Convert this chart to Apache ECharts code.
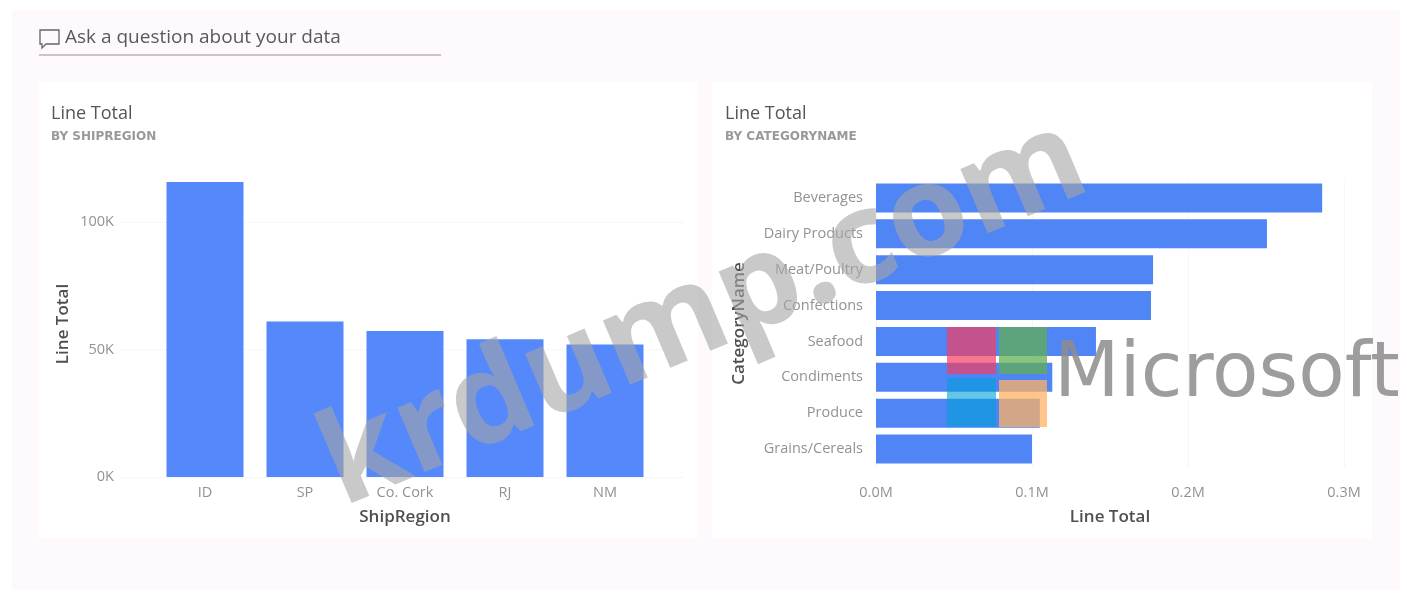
<!DOCTYPE html>
<html>
<head>
<meta charset="utf-8">
<script src="https://cdn.jsdelivr.net/npm/echarts@6/dist/echarts.min.js"></script>
<style>
html,body{margin:0;padding:0;background:#fff;overflow:hidden}
#c{width:1407px;height:597px;filter:blur(0.6px)}
</style>
</head>
<body>
<div id="c"></div>
<script>
const regions = ['ID', 'SP', 'Co. Cork', 'RJ', 'NM'];
const regionTotals = [115700, 61000, 57300, 54000, 52000];
const categories = ['Beverages', 'Dairy Products', 'Meat/Poultry', 'Confections', 'Seafood', 'Condiments', 'Produce', 'Grains/Cereals'];
const categoryTotals = [286000, 250600, 177600, 176300, 141000, 113000, 105000, 100000];
const FONT = '"Open Sans","Noto Sans",sans-serif';
const SUB = '"DejaVu Sans",sans-serif';
const tickColor = '#929292', nameColor = '#4f4f4f', gridColor = '#f0f0f0';
const chart = echarts.init(document.getElementById('c'), null, {renderer: 'canvas'});
const nameStyle = {color: nameColor, fontFamily: FONT, fontSize: 17, fontWeight: 600};
const tick = {color: tickColor, fontFamily: FONT, fontSize: 14.5};
const logo = [
  [947, 327, 49, 47, 'rgba(245,60,95,0.7)'],
  [999, 327, 48, 47, 'rgba(98,175,84,0.75)'],
  [947, 378, 49, 49, 'rgba(0,160,215,0.6)'],
  [999, 380, 48, 47, 'rgba(255,178,99,0.75)']
];
chart.setOption({
  animation: false,
  backgroundColor: '#ffffff',
  title: [
    {left: 46, top: 100, text: 'Line Total', itemGap: 8,
     textStyle: {color: '#555', fontFamily: FONT, fontSize: 18, fontWeight: 400},
     subtext: 'BY SHIPREGION', subtextStyle: {color: '#999999', fontFamily: SUB, fontSize: 12, fontWeight: 600}},
    {left: 720, top: 100, text: 'Line Total', itemGap: 8,
     textStyle: {color: '#555', fontFamily: FONT, fontSize: 18, fontWeight: 400},
     subtext: 'BY CATEGORYNAME', subtextStyle: {color: '#999999', fontFamily: SUB, fontSize: 12, fontWeight: 600}}
  ],
  grid: [
    {left: 120, top: 171, width: 563, height: 306},
    {left: 155, top: 171, width: 500, height: 306},
    {left: 876, top: 180, width: 468, height: 287}
  ],
  xAxis: [
    {gridIndex: 0, type: 'value', show: false},
    {gridIndex: 1, type: 'category', data: regions, axisLine: {show: false}, axisTick: {show: false},
     axisLabel: Object.assign({margin: 8}, tick),
     name: 'ShipRegion', nameLocation: 'middle', nameGap: 32, nameTextStyle: nameStyle},
    {gridIndex: 2, type: 'value', min: 0, max: 300000, interval: 100000,
     axisLine: {show: false}, axisTick: {show: false},
     axisLabel: Object.assign({margin: 18, formatter: v => (v / 1000000).toFixed(1) + 'M'}, tick),
     splitLine: {lineStyle: {color: gridColor, type: 'dotted'}},
     name: 'Line Total', nameLocation: 'middle', nameGap: 42, nameTextStyle: nameStyle}
  ],
  yAxis: [
    {gridIndex: 0, type: 'value', min: 0, max: 120000, interval: 50000,
     axisLine: {show: false}, axisTick: {show: false},
     axisLabel: Object.assign({margin: 6, showMaxLabel: false, formatter: v => (v / 1000) + 'K'}, tick),
     splitLine: {showMaxLine: false, lineStyle: {color: gridColor, type: 'dotted'}},
     name: 'Line Total', nameLocation: 'middle', nameGap: 48, nameTextStyle: nameStyle},
    {gridIndex: 1, type: 'value', min: 0, max: 120000, show: false, splitLine: {show: false}},
    {gridIndex: 2, type: 'category', data: categories, inverse: true,
     axisLine: {show: false}, axisTick: {show: false},
     axisLabel: Object.assign({margin: 13}, tick),
     name: 'CategoryName', nameLocation: 'middle', nameGap: 128, nameTextStyle: nameStyle}
  ],
  series: [
    {type: 'bar', xAxisIndex: 1, yAxisIndex: 1, data: regionTotals, barWidth: 77,
     itemStyle: {color: '#5488fb'}},
    {type: 'bar', xAxisIndex: 2, yAxisIndex: 2, data: categoryTotals, barWidth: 29,
     itemStyle: {color: '#5085f6'}}
  ],
  graphic: [
    {type: 'rect', z: -20, shape: {x: 12, y: 10, width: 1388, height: 580}, style: {fill: '#fdf9fd'}},
    {type: 'rect', z: -10, shape: {x: 38, y: 82, width: 660, height: 456}, style: {fill: '#ffffff'}},
    {type: 'rect', z: -10, shape: {x: 712, y: 82, width: 660, height: 456}, style: {fill: '#ffffff'}},
    {type: 'polygon', z: 5, shape: {points: [[40, 30], [59, 30], [59, 44], [46, 44], [42, 48], [42, 44], [40, 44]]}, style: {fill: 'none', stroke: '#666', lineWidth: 1.3}},
    {type: 'text', z: 5, style: {x: 65, y: 38, text: 'Ask a question about your data', fill: '#5a5a5a', font: '400 19px ' + FONT, verticalAlign: 'middle'}},
    {type: 'line', z: 5, shape: {x1: 39, y1: 55, x2: 441, y2: 55}, style: {stroke: '#b8b0bf', lineWidth: 1.5}},
    {type: 'text', z: 50, rotation: 23 * Math.PI / 180, x: 704, y: 314,
     style: {x: 0, y: 0, text: 'krdump.com', fill: 'rgba(165,165,165,0.6)', font: '700 128px ' + FONT, align: 'center', verticalAlign: 'middle'}}
  ].concat(logo.map(s => ({type: 'rect', z: 60, shape: {x: s[0], y: s[1], width: s[2], height: s[3]}, style: {fill: s[4]}})), [
    {type: 'text', z: 60, style: {x: 1054, y: 376, text: 'Microsoft', fill: 'rgba(140,140,140,0.85)', font: '400 76px "DejaVu Sans",sans-serif', verticalAlign: 'middle'}}
  ])
});
</script>
</body>
</html>
